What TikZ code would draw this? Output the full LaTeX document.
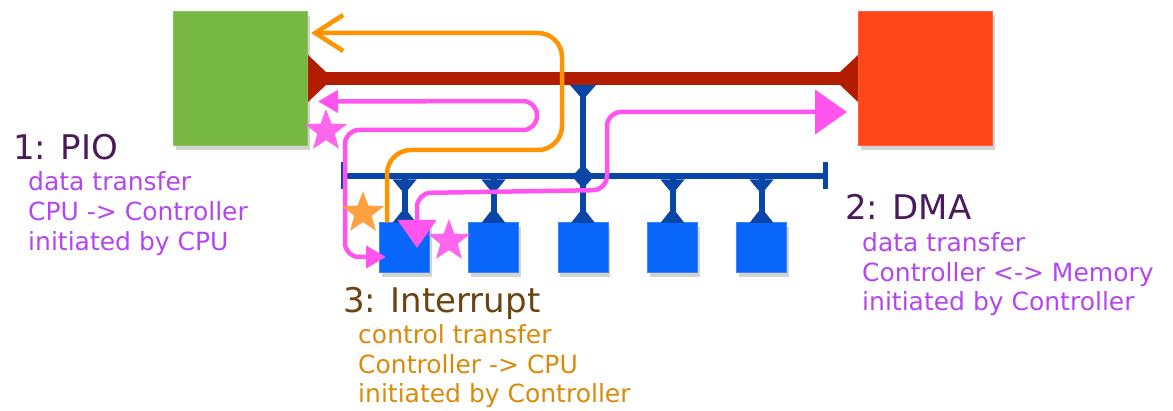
\documentclass[tikz,border=0pt]{standalone}
\usepackage{fontspec}
\setmainfont{DejaVu Sans}
\usetikzlibrary{arrows.meta,shapes.geometric,shadows,calc}
\definecolor{cpugreen}{HTML}{77B843}
\definecolor{memred}{HTML}{FF4619}
\definecolor{busred}{HTML}{B21D00}
\definecolor{busblue}{HTML}{0A46A6}
\definecolor{devblue}{HTML}{0866FA}
\definecolor{pinkarrow}{HTML}{FF55EE}
\definecolor{orangearrow}{HTML}{FF9300}
\definecolor{titlepurple}{HTML}{4A1A5A}
\definecolor{subpurple}{HTML}{B446F2}
\definecolor{titlebrown}{HTML}{6B4511}
\definecolor{suborange}{HTML}{DA8A0A}
\definecolor{starpink}{HTML}{FF66EE}
\definecolor{starorange}{HTML}{FFA040}
\begin{document}
\begin{tikzpicture}[x=1pt,y=-1pt,
  bigbox/.style={fill=#1, draw=#1!85!white, line width=1pt, minimum size=134pt, inner sep=0pt,
    drop shadow={opacity=0.35, shadow xshift=2pt, shadow yshift=-5pt}},
  device/.style={fill=devblue, draw=devblue!80!white, line width=1pt, minimum size=50pt, inner sep=0pt,
    drop shadow={opacity=0.35, shadow xshift=2pt, shadow yshift=-4pt}},
  redbus/.style={busred, line width=13pt},
  bluebus/.style={busblue, line width=6pt},
  pinkarr/.style={pinkarrow, line width=4.5pt, rounded corners=14pt, line join=round},
  orangearr/.style={orangearrow, line width=4.5pt, rounded corners=24pt, line join=round},
  title/.style={anchor=base west, inner sep=0pt, font=\fontsize{34}{40}\selectfont},
  sub/.style={anchor=base west, inner sep=0pt, font=\fontsize{25}{30}\selectfont},
  mystar/.style={star, star points=5, star point ratio=2.4, minimum size=44pt, inner sep=0pt, fill=#1},
]
\useasboundingbox (0,0) rectangle (1173,411);

% boxes
\node[bigbox=cpugreen] (cpu) at (240.5,78.5) {};
\node[bigbox=memred] (mem) at (925.5,78.5) {};
\foreach \i/\x in {1/404.5,2/493.5,3/583,4/672.5,5/761.5}
  \node[device] (d\i) at (\x,248) {};

% blue bus
\coordinate (hbL) at (343,176.5);
\coordinate (hbR) at (825,176.5);
\draw[bluebus] (hbL) -- (hbR);
\draw[busblue, line width=5pt] ($(hbL)+(0,-14)$) -- ($(hbL)+(0,13)$);
\draw[busblue, line width=5pt] ($(hbR)+(0,-14)$) -- ($(hbR)+(0,13)$);
\foreach \i in {1,...,5}{
  \draw[bluebus] (d\i.north) -- (d\i.north |- hbL);
  \fill[busblue] ($(d\i.north)+(-12,0.5)$) -- ($(d\i.north)+(12,0.5)$) -- ($(d\i.north)+(3,-11)$) -- ($(d\i.north)+(-3,-11)$) -- cycle;
}
\foreach \i in {1,2,4,5}
  \fill[busblue] ($(d\i.north |- hbL)+(-12,3)$) -- ($(d\i.north |- hbL)+(12,3)$) -- ($(d\i.north |- hbL)+(3,14)$) -- ($(d\i.north |- hbL)+(-3,14)$) -- cycle;
% main vertical to memory bus
\draw[bluebus] (d3.north) -- (d3.north |- cpu.east);
\fill[busblue] ($(d3.north |- hbL)+(-11,0)$) -- ($(d3.north |- hbL)+(0,-12)$) -- ($(d3.north |- hbL)+(11,0)$) -- ($(d3.north |- hbL)+(0,12)$) -- cycle;

% red memory bus
\draw[redbus] (cpu.east) -- (mem.west);
\fill[busred] ($(cpu.east)+(0,-23.5)$) -- ($(cpu.east)+(18,-6.5)$) -- ($(cpu.east)+(18,6.5)$) -- ($(cpu.east)+(0,23.5)$) -- cycle;
\fill[busred] ($(mem.west)+(0,-23.5)$) -- ($(mem.west)+(-18,-6.5)$) -- ($(mem.west)+(-18,6.5)$) -- ($(mem.west)+(0,23.5)$) -- cycle;
\fill[busblue] ($(d3.north |- cpu.east)+(-13,6.5)$) -- ($(d3.north |- cpu.east)+(13,6.5)$) -- ($(d3.north |- cpu.east)+(3,18)$) -- ($(d3.north |- cpu.east)+(-3,18)$) -- cycle;

% hand drawn arrows
\draw[orangearr, -{Straight Barb[length=28pt,width=36pt]}]
  ($(d1.north west)+(8,0)$) -- (387,150) -- (562,150) -- (562,33) -- ($(cpu.east)+(3,-45.5)$);
\draw[pinkarr, {Triangle[length=20pt,width=22pt]}-{Triangle[length=20pt,width=22pt]}]
  ($(cpu.east)+(10,23)$) -- (537,101) -- (537,130) -- (345,130) -- (345,257) -- ($(d1.west)+(7,9)$);
\draw[pinkarr, {Triangle[length=28pt,width=38pt]}-{Triangle[length=32pt,width=44pt]}]
  ($(d1.center)+(12.5,0)$) -- (417,193) -- (607,190) -- (607,112) -- ($(mem.west)+(-11,33.5)$);

% stars
\node[mystar=starpink] (s1) at (326,131) {};
\node[mystar=starpink] (s2) at (449,241) {};
\node[mystar=starorange] (s3) at (363,213) {};

% texts
\node[title, text=titlepurple] (pio) at (13,160) {1: PIO};
\node[sub, text=subpurple] (pio1) at (28,191) {data transfer};
\node[sub, text=subpurple] (pio2) at (28,221) {CPU -> Controller};
\node[sub, text=subpurple] (pio3) at (28,251) {initiated by CPU};

\node[title, text=titlepurple] (dma) at (845,220) {2: DMA};
\node[sub, text=subpurple] (dma1) at (862,252) {data transfer};
\node[sub, text=subpurple] (dma2) at (862,282) {Controller <-> Memory};
\node[sub, text=subpurple] (dma3) at (862,311) {initiated by Controller};

\node[title, text=titlebrown] (irq) at (343,313) {3: Interrupt};
\node[sub, text=suborange] (irq1) at (358,344) {control transfer};
\node[sub, text=suborange] (irq2) at (358,374) {Controller -> CPU};
\node[sub, text=suborange] (irq3) at (358,403) {initiated by Controller};
\end{tikzpicture}
\end{document}
